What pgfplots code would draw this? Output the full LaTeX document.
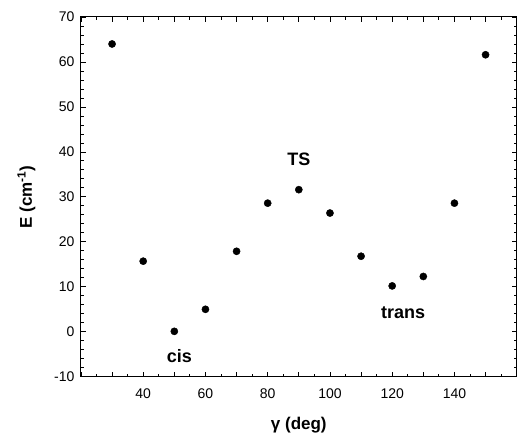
\documentclass[border=0pt]{standalone}
\usepackage{fontspec}
\setmainfont{Liberation Sans}
\usepackage{pgfplots}
\pgfplotsset{compat=1.18}

\begin{document}
\begin{tikzpicture}
\begin{axis}[
  name=ax,
  scale only axis,
  width=436bp, height=360bp,
  xmin=20, xmax=160,
  ymin=-10, ymax=70,
  xtick={20,30,...,160},
  xticklabels={,,40,,60,,80,,100,,120,,140,,},
  minor x tick num=1,
  ytick={-10,0,...,70},
  minor y tick num=4,
  tick align=inside,
  major tick length=5bp,
  minor tick length=3bp,
  axis line style={line width=1bp},
  every tick/.style={black, line width=0.8bp},
  /pgf/number format/assume math mode=true,
  ticklabel style={font=\fontsize{14bp}{14bp}\selectfont},
  xticklabel style={yshift=-8bp},
  yticklabel style={xshift=-3bp},
  xlabel={\textbf{γ (deg)}},
  ylabel={\textbf{E (cm\textsuperscript{-1})}},
  label style={font=\fontsize{17bp}{17bp}\selectfont},
  xlabel style={yshift=-12bp},
  ylabel style={yshift=12bp},
  clip=false,
]
\addplot[only marks, mark=*, mark size=3.6bp, black] coordinates {
(30,64.0)(40,15.7)(50,0.1)(60,5.0)(70,17.9)(80,28.6)(90,31.6)
(100,26.4)(110,16.8)(120,10.2)(130,12.3)(140,28.6)(150,61.6)};
\node[font=\fontsize{18bp}{18bp}\selectfont\bfseries] at (axis cs:90,38.4) {TS};
\node[font=\fontsize{18bp}{18bp}\selectfont\bfseries] at (axis cs:51.6,-5.4) {cis};
\node[font=\fontsize{18bp}{18bp}\selectfont\bfseries] at (axis cs:123.5,4.3) {trans};
\end{axis}
\path (ax.south west) ++(-81bp,-60bp) coordinate (bl);
\path (ax.north east) ++(3bp,17bp) coordinate (tr);
\path (bl) (tr);
\end{tikzpicture}
\end{document}
